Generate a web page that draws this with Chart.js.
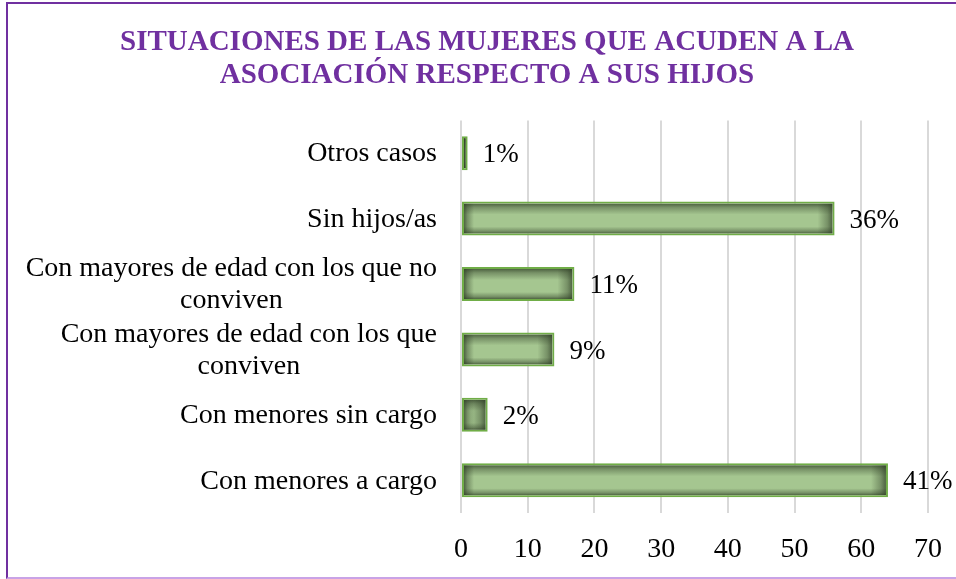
<!DOCTYPE html>
<html>
<head>
<meta charset="utf-8">
<script src="https://cdn.jsdelivr.net/npm/chart.js@4/dist/chart.umd.min.js"></script>
<style>
  html, body { margin: 0; padding: 0; background: #ffffff; overflow: hidden; }
  #wrap { position: relative; width: 956px; height: 579px; overflow: hidden; }
  #frame { position: absolute; left: 6px; top: 2px; width: 1000px; height: 573px;
           border: 2px solid #7030A0; border-bottom-color: #c9a3e6; box-sizing: content-box; }
  canvas { position: absolute; left: 0; top: 0; }
</style>
</head>
<body>
<div id="wrap">
  <div id="frame"></div>
  <canvas id="c" width="956" height="579"></canvas>
</div>
<script>
// ---- data ----
const titleLines = ['SITUACIONES DE LAS MUJERES QUE ACUDEN A LA', 'ASOCIACIÓN RESPECTO A SUS HIJOS'];
const categories = [
  'Otros casos',
  'Sin hijos/as',
  ['Con mayores de edad con los que no', 'conviven'],
  ['Con mayores de edad con los que', 'conviven'],
  'Con menores sin cargo',
  'Con menores a cargo'
];
const values = [1, 56, 17, 14, 4, 64];
const valueLabels = ['1%', '36%', '11%', '9%', '2%', '41%'];
const xTicks = [0, 10, 20, 30, 40, 50, 60, 70];

const FONT = 'Liberation Serif, Times New Roman, serif';

function edgeGrad(ctx, ax0, ay0, ax1, ay1) {
  const g = ctx.createLinearGradient(ax0, ay0, ax1, ay1);
  g.addColorStop(0, 'rgba(45,60,36,0.72)');
  g.addColorStop(0.35, 'rgba(45,60,36,0.38)');
  g.addColorStop(1, 'rgba(45,60,36,0)');
  return g;
}

const decorPlugin = {
  id: 'decor',
  afterDatasetsDraw(chart) {
    const ctx = chart.ctx;
    const meta = chart.getDatasetMeta(0);
    meta.data.forEach((bar, i) => {
      const p = bar.getProps(['x', 'y', 'base', 'height'], true);
      const bw = 2;
      const x0 = Math.min(p.base, p.x) + bw, x1 = Math.max(p.base, p.x) - bw;
      const y0 = p.y - p.height / 2 + bw, y1 = p.y + p.height / 2 - bw;
      const w = x1 - x0, h = y1 - y0;
      if (w > 0 && h > 0) {
        ctx.save();
        ctx.beginPath(); ctx.rect(x0, y0, w, h); ctx.clip();
        const dt = 11, db = 7, dl = 10, dr = 15;
        ctx.fillStyle = edgeGrad(ctx, 0, y0, 0, y0 + dt); ctx.fillRect(x0, y0, w, dt);
        ctx.fillStyle = edgeGrad(ctx, 0, y1, 0, y1 - db); ctx.fillRect(x0, y1 - db, w, db);
        ctx.fillStyle = edgeGrad(ctx, x0, 0, x0 + dl, 0); ctx.fillRect(x0, y0, dl, h);
        ctx.fillStyle = edgeGrad(ctx, x1, 0, x1 - dr, 0); ctx.fillRect(x1 - dr, y0, dr, h);
        ctx.restore();
      }
      // value label
      ctx.save();
      ctx.font = '27px ' + FONT;
      ctx.fillStyle = '#000000';
      ctx.textAlign = 'left';
      ctx.textBaseline = 'middle';
      ctx.fillText(valueLabels[i], Math.max(p.base, p.x) + 15, p.y + 2);
      ctx.restore();
    });
    // category labels
    const yScale = chart.scales.y;
    ctx.save();
    ctx.font = '28px ' + FONT;
    ctx.fillStyle = '#000000';
    ctx.textBaseline = 'middle';
    ctx.textAlign = 'center';
    const right = chart.chartArea.left - 24;
    const lh = 32;
    categories.forEach((lab, i) => {
      const lines = Array.isArray(lab) ? lab : [lab];
      const yc = yScale.getPixelForTick(i) + 1;
      let widest = 0;
      lines.forEach(l => { widest = Math.max(widest, ctx.measureText(l).width); });
      const cx = right - widest / 2;
      lines.forEach((l, k) => {
        ctx.fillText(l, cx, yc + (k - (lines.length - 1) / 2) * lh);
      });
    });
    ctx.restore();
  }
};

new Chart(document.getElementById('c'), {
  type: 'bar',
  data: {
    labels: categories,
    datasets: [{
      data: values,
      backgroundColor: '#A5C690',
      borderColor: '#70AD47',
      borderWidth: 2,
      borderSkipped: false,
      barPercentage: 0.52,
      categoryPercentage: 1.0
    }]
  },
  options: {
    indexAxis: 'y',
    responsive: false,
    animation: false,
    layout: { padding: { left: 18, right: 0, top: 0, bottom: 0 } },
    plugins: {
      legend: { display: false },
      tooltip: { enabled: false },
      title: {
        display: true,
        text: titleLines,
        color: '#7030A0',
        font: { family: FONT, size: 29, weight: 'bold', lineHeight: 1.128 },
        padding: { top: 26, bottom: 29 }
      }
    },
    scales: {
      x: {
        type: 'linear',
        min: xTicks[0],
        max: xTicks[xTicks.length - 1],
        afterBuildTicks: (s) => { s.ticks = xTicks.map(v => ({ value: v })); },
        ticks: { color: '#000000', font: { family: FONT, size: 28 }, padding: 20 },
        grid: { color: '#d9d9d9', lineWidth: 2, drawTicks: false },
        border: { display: false },
        afterFit: (s) => { s.height = 66; s.paddingLeft = 0; s.paddingRight = 0; }
      },
      y: {
        type: 'category',
        ticks: { display: false },
        grid: { display: false },
        border: { display: false },
        afterFit: (s) => { s.width = 443; }
      },
      yR: {
        type: 'linear',
        position: 'right',
        display: true,
        ticks: { display: false },
        grid: { display: false },
        border: { display: false },
        afterFit: (s) => { s.width = 28; }
      }
    }
  },
  plugins: [decorPlugin]
});
</script>
</body>
</html>
